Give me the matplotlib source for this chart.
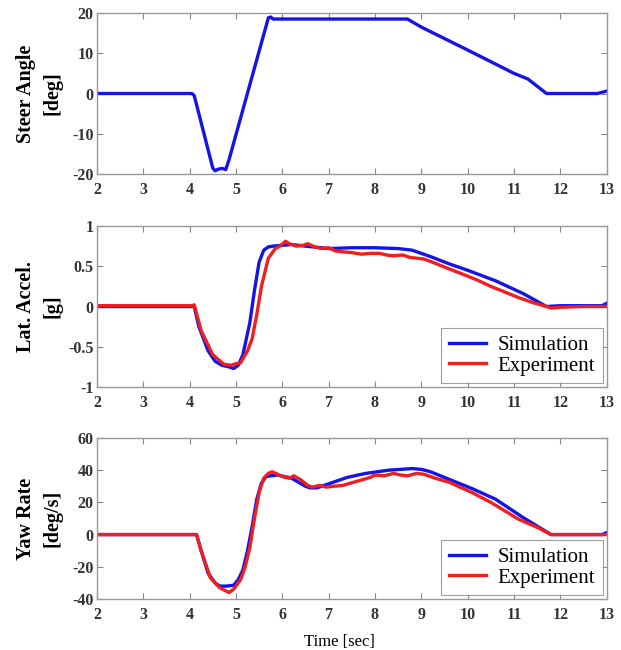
import matplotlib
matplotlib.use("Agg")
import matplotlib.pyplot as plt
import numpy as np

# ---- Data ----
steer_t = [2.0, 4.05, 4.1, 4.5, 4.55, 4.62, 4.7, 4.78, 4.85, 5.7, 5.75, 5.8, 8.7, 9.0, 10.0, 11.0, 11.3, 11.7, 12.0, 12.8, 13.0]
steer_v = [0.0, 0.0, -0.5, -18.5, -19.2, -18.8, -18.6, -18.9, -16.5, 18.8, 19.0, 18.5, 18.5, 16.5, 10.8, 5.0, 3.6, 0.0, 0.0, 0.0, 0.6]

lat_sim_t = [2.0, 4.1, 4.2, 4.4, 4.55, 4.7, 4.85, 4.95, 5.05, 5.15, 5.3, 5.4, 5.5, 5.6, 5.7, 5.8, 6.0, 6.2, 6.5, 7.0, 7.5, 8.0, 8.5, 8.8, 9.2, 9.6, 10.0, 10.6, 11.2, 11.7, 12.0, 12.9, 13.0]
lat_sim_v = [0.0, 0.0, -0.25, -0.55, -0.68, -0.73, -0.75, -0.77, -0.73, -0.6, -0.2, 0.2, 0.55, 0.7, 0.74, 0.75, 0.76, 0.77, 0.75, 0.72, 0.73, 0.73, 0.72, 0.70, 0.62, 0.53, 0.45, 0.32, 0.16, 0.0, 0.01, 0.01, 0.04]

lat_exp_t = [2.0, 4.05, 4.1, 4.25, 4.5, 4.75, 4.9, 5.0, 5.1, 5.25, 5.35, 5.45, 5.55, 5.7, 5.85, 5.95, 6.07, 6.15, 6.3, 6.45, 6.55, 6.7, 6.85, 7.0, 7.15, 7.3, 7.5, 7.7, 7.9, 8.1, 8.25, 8.4, 8.6, 8.75, 8.9, 9.05, 9.2, 9.5, 9.9, 10.2, 10.5, 10.8, 11.1, 11.4, 11.7, 11.8, 12.0, 12.5, 13.0]
lat_exp_v = [0.01, 0.01, 0.02, -0.3, -0.6, -0.72, -0.73, -0.71, -0.70, -0.55, -0.4, -0.1, 0.25, 0.6, 0.72, 0.75, 0.81, 0.78, 0.75, 0.76, 0.78, 0.74, 0.72, 0.73, 0.69, 0.68, 0.67, 0.65, 0.66, 0.66, 0.64, 0.63, 0.64, 0.61, 0.60, 0.59, 0.56, 0.49, 0.40, 0.33, 0.25, 0.18, 0.11, 0.05, 0.0, -0.02, -0.01, 0.0, 0.0]

yaw_sim_t = [2.0, 4.15, 4.25, 4.4, 4.55, 4.65, 4.8, 4.95, 5.05, 5.15, 5.25, 5.35, 5.45, 5.55, 5.65, 5.75, 5.9, 6.05, 6.2, 6.35, 6.5, 6.6, 6.75, 6.9, 7.1, 7.4, 7.8, 8.3, 8.8, 9.0, 9.2, 9.5, 10.1, 10.6, 11.2, 11.8, 12.0, 12.9, 13.0]
yaw_sim_v = [0.0, 0.0, -10.0, -24.0, -30.0, -32.0, -32.0, -31.5, -28.0, -22.0, -10.0, 5.0, 22.0, 32.0, 36.0, 36.5, 37.0, 36.0, 35.0, 32.5, 30.0, 29.0, 29.0, 30.5, 32.5, 35.5, 38.0, 40.0, 41.0, 40.5, 39.0, 35.5, 28.5, 22.0, 10.5, 0.0, 0.0, 0.0, 1.2]

yaw_exp_t = [2.0, 4.15, 4.25, 4.45, 4.65, 4.85, 4.95, 5.1, 5.2, 5.3, 5.4, 5.5, 5.6, 5.7, 5.78, 5.9, 6.0, 6.15, 6.25, 6.4, 6.55, 6.65, 6.8, 6.95, 7.1, 7.3, 7.6, 7.9, 8.0, 8.2, 8.4, 8.55, 8.7, 8.9, 9.05, 9.3, 9.6, 10.1, 10.5, 11.1, 11.5, 11.8, 12.0, 13.0]
yaw_exp_v = [0.0, 0.0, -10.0, -27.0, -33.0, -36.0, -34.0, -28.0, -20.0, -8.0, 10.0, 26.0, 35.0, 38.0, 39.0, 37.5, 36.0, 35.0, 36.5, 34.0, 30.5, 29.5, 30.5, 29.5, 30.0, 30.5, 33.0, 35.5, 37.0, 36.5, 38.0, 37.0, 36.5, 38.0, 37.5, 35.0, 32.5, 26.0, 20.0, 9.5, 4.5, 0.0, 0.0, 0.0]

x_ticks = list(range(2, 14))

# ---- Figure ----
plt.rcParams['font.family'] = ['Liberation Serif', 'DejaVu Serif']
fig = plt.figure(figsize=(6.21, 6.5), dpi=100)

blue = '#1414e6'
red = '#f01e1e'
lw = 2.4

L, W = 0.156, 0.821

def style_axes(ax, ylim, yticks, ylabel):
    ax.set_xlim(2, 13)
    ax.set_ylim(*ylim)
    ax.set_xticks(x_ticks)
    ax.set_yticks(yticks)
    ax.set_yticklabels([('%g' % v) for v in yticks], fontsize=11.5, fontweight='bold', color='#333333')
    ax.set_xticklabels([str(v) for v in x_ticks], fontsize=11.5, fontweight='bold', color='#333333')
    ax.tick_params(direction='in', top=True, right=True, length=4, width=0.8, color='#888888')
    ax.tick_params(axis='y', pad=2.5)
    ax.tick_params(axis='x', pad=5.5)
    for s in ax.spines.values():
        s.set_color('#999999')
        s.set_linewidth(1.0)
    ax.set_ylabel(ylabel, fontsize=14.5, fontweight='bold', linespacing=1.45)
    ax.yaxis.set_label_coords(-0.067, 0.5)

ax1 = fig.add_axes([L, 0.7323, W, 0.2477])
ax1.plot(steer_t, steer_v, color=blue, lw=lw)
style_axes(ax1, (-20, 20), [-20, -10, 0, 10, 20], 'Steer Angle\n[deg]')

ax2 = fig.add_axes([L, 0.4046, W, 0.2477])
ax2.plot(lat_sim_t, lat_sim_v, color=blue, lw=lw, label='Simulation')
ax2.plot(lat_exp_t, lat_exp_v, color=red, lw=lw, label='Experiment')
style_axes(ax2, (-1, 1), [-1, -0.5, 0, 0.5, 1], 'Lat. Accel.\n[g]')

ax3 = fig.add_axes([L, 0.0785, W, 0.2477])
ax3.plot(yaw_sim_t, yaw_sim_v, color=blue, lw=lw, label='Simulation')
ax3.plot(yaw_exp_t, yaw_exp_v, color=red, lw=lw, label='Experiment')
style_axes(ax3, (-40, 60), [-40, -20, 0, 20, 40, 60], 'Yaw Rate\n[deg/s]')
ax3.set_xlabel('Time [sec]', fontsize=12)
ax3.xaxis.set_label_coords(0.475, -0.215)

for ax in (ax2, ax3):
    leg = ax.legend(loc='lower right', fontsize=15, frameon=True, fancybox=False,
                    edgecolor='#888888', borderpad=0.35, handlelength=1.8,
                    labelspacing=0.05, handletextpad=0.55, borderaxespad=0.2)
    leg.get_frame().set_linewidth(0.8)

fig.savefig('out.png', dpi=100)
